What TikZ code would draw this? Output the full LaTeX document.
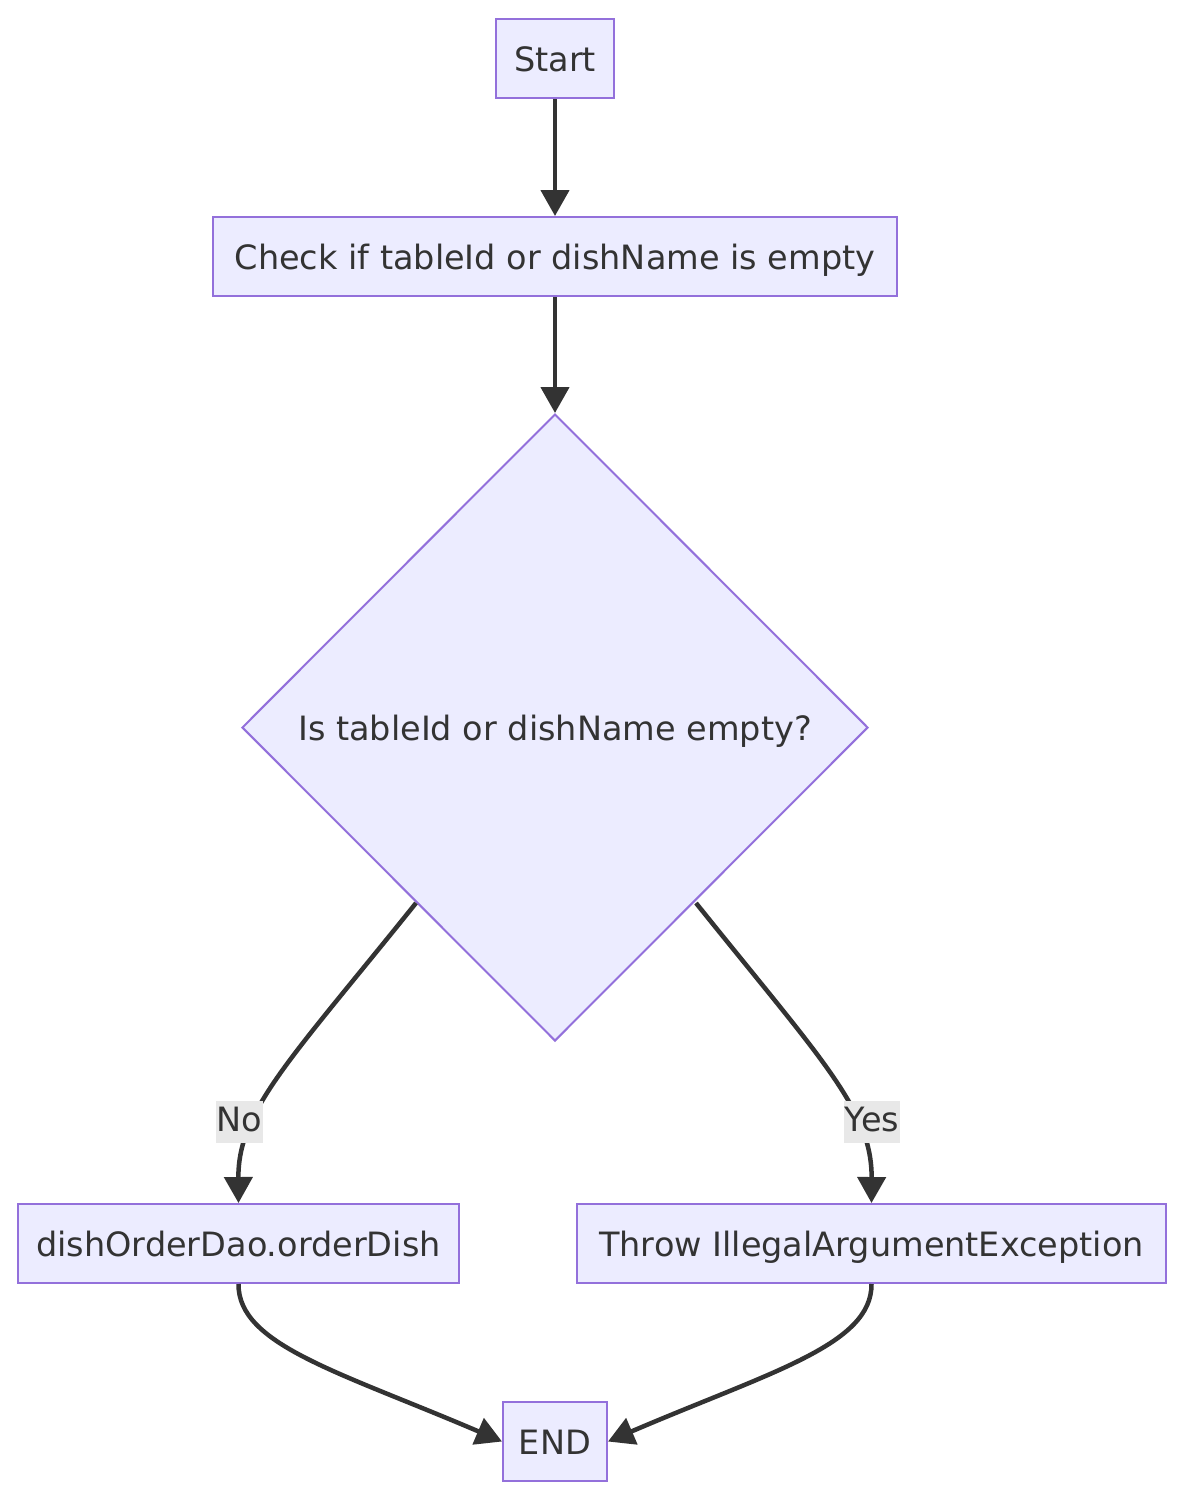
\documentclass[tikz,border=0pt]{standalone}
\usepackage{fontspec}
\setmainfont{DejaVu Sans}
\usetikzlibrary{shapes.geometric,arrows.meta}
\definecolor{nodefill}{HTML}{ECECFF}
\definecolor{nodeline}{HTML}{9370DB}
\definecolor{edgecol}{HTML}{333333}
\definecolor{lblbg}{HTML}{E8E8E8}
\begin{document}
\begin{tikzpicture}[x=1pt,y=-1pt,
  txt/.style={font=\fontsize{33.5}{40}\selectfont, text=edgecol},
  box/.style={txt, draw=nodeline, fill=nodefill, line width=2pt,
    inner sep=0pt, text height=28pt, text depth=2pt},
  dec/.style={txt, diamond, draw=nodeline, fill=nodefill, line width=2pt,
    inner sep=0pt, minimum width=626pt, minimum height=627pt, text height=28pt, text depth=2pt},
  conn/.style={draw=edgecol, line width=4.5pt, -{Triangle[length=26pt,width=28pt]}},
  lbl/.style={txt, fill=lblbg, inner xsep=1pt, inner ysep=5pt, text height=25pt, text depth=7pt}
]
\useasboundingbox (0,0) rectangle (1190,1500);
\fill[white] (0,0) rectangle (1190,1500);
\node[box, minimum width=118pt, minimum height=79pt] (start) at (555,58.5) {Start};
\node[box, minimum width=684pt, minimum height=79pt] (check) at (555,256.5) {Check if tableId or dishName is empty};
\node[dec] (dec) at (555,727.5) {Is tableId or dishName empty?};
\node[box, minimum width=441pt, minimum height=79pt] (order) at (238.5,1243.5) {dishOrderDao.orderDish};
\node[box, minimum width=589pt, minimum height=79pt] (throw) at (871.5,1243.5) {Throw IllegalArgumentException};
\node[box, minimum width=104pt, minimum height=79pt] (end) at (555,1441.5) {END};
\coordinate (noS) at (416,903);
\coordinate (yesS) at (696,903);
\draw[conn] (start) -- (check);
\draw[conn] (check) -- (dec);
\draw[conn] (noS) .. controls (290,1060) and (238,1110) .. (order.north);
\draw[conn] (yesS) .. controls (822,1060) and (872,1110) .. (throw.north);
\node[lbl] (nolbl) at (239.5,1122) {No};
\node[lbl] (yeslbl) at (872,1122) {Yes};
\draw[conn] (order.south) .. controls (238,1345) and (340,1372) .. (end.west);
\draw[conn] (throw.south) .. controls (872,1345) and (770,1372) .. (end.east);
\end{tikzpicture}
\end{document}
